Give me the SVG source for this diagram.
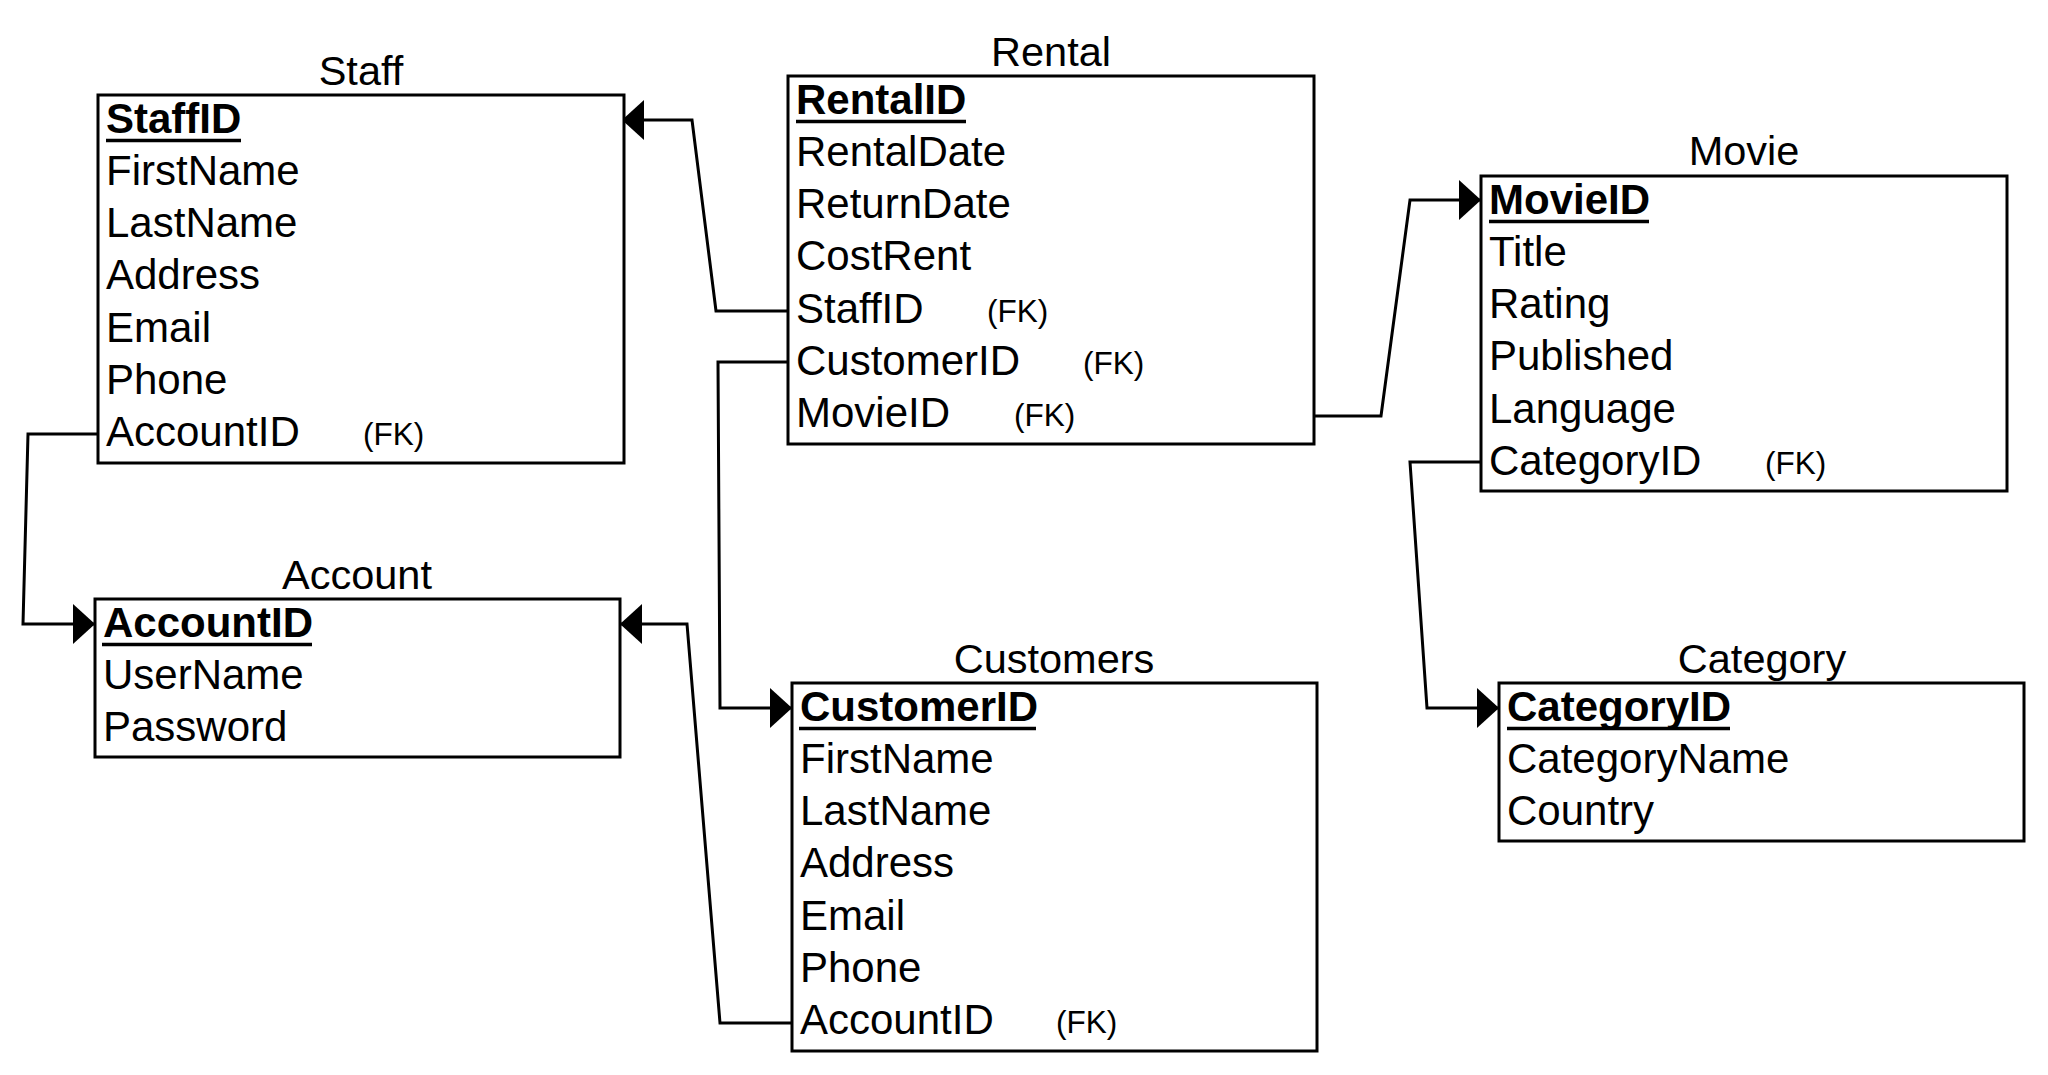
<svg xmlns="http://www.w3.org/2000/svg" width="2048" height="1075" viewBox="0 0 2048 1075">
<style>
  .box{fill:#fff;stroke:#000;stroke-width:3}
  .t{font-family:"Liberation Sans",Arial,sans-serif;font-size:42px;fill:#000}
  .title{font-family:"Liberation Sans",Arial,sans-serif;font-size:41.5px;fill:#000;text-anchor:middle}
  .pk{font-weight:bold}
  .fk{font-family:"Liberation Sans",Arial,sans-serif;font-size:31.5px;fill:#000}
  .ul{stroke:#000;stroke-width:3.5}
  .conn{fill:none;stroke:#000;stroke-width:3;marker-end:url(#arr)}
</style>
<defs>
  <marker id="arr" viewBox="0 0 22 40" refX="22" refY="20" markerWidth="22" markerHeight="40" markerUnits="userSpaceOnUse" orient="auto">
    <path d="M0,0 L22,20 L0,40 Z" fill="#000"/>
  </marker>
</defs>
<rect width="2048" height="1075" fill="#fff"/>

<g id="connectors">
  <polyline class="conn" points="788,311 716,311 692,120 622,120"/>
  <polyline class="conn" points="788,362 718,362 720,708 792,708"/>
  <polyline class="conn" points="1314,416 1381,416 1410,200 1481,200"/>
  <polyline class="conn" points="1481,462 1410,462 1427,708 1499,708"/>
  <polyline class="conn" points="98,434 28,434 23,624 95,624"/>
  <polyline class="conn" points="792,1023 720,1023 687,624 620,624"/>
</g>

<g id="staff">
  <text class="title" x="361" y="85">Staff</text>
  <rect class="box" x="98" y="95" width="526" height="368"/>
  <text class="t pk" x="106" y="132.5">StaffID</text>
  <line class="ul" x1="106" y1="140.5" x2="241" y2="140.5"/>
  <text class="t" x="106" y="184.8">FirstName</text>
  <text class="t" x="106" y="237.1">LastName</text>
  <text class="t" x="106" y="289.4">Address</text>
  <text class="t" x="106" y="341.7">Email</text>
  <text class="t" x="106" y="394">Phone</text>
  <text class="t" x="106" y="446.3">AccountID</text>
  <text class="fk" x="363" y="445">(FK)</text>
</g>

<g id="account">
  <text class="title" x="357" y="589">Account</text>
  <rect class="box" x="95" y="599" width="525" height="158"/>
  <text class="t pk" x="103" y="636.5">AccountID</text>
  <line class="ul" x1="102" y1="644.5" x2="312" y2="644.5"/>
  <text class="t" x="103" y="688.8">UserName</text>
  <text class="t" x="103" y="741.1">Password</text>
</g>

<g id="rental">
  <text class="title" x="1051" y="66">Rental</text>
  <rect class="box" x="788" y="76" width="526" height="368"/>
  <text class="t pk" x="796" y="113.5">RentalID</text>
  <line class="ul" x1="796" y1="121.5" x2="966" y2="121.5"/>
  <text class="t" x="796" y="165.8">RentalDate</text>
  <text class="t" x="796" y="218.1">ReturnDate</text>
  <text class="t" x="796" y="270.4">CostRent</text>
  <text class="t" x="796" y="322.7">StaffID</text>
  <text class="fk" x="987" y="321.5">(FK)</text>
  <text class="t" x="796" y="375">CustomerID</text>
  <text class="fk" x="1083" y="373.5">(FK)</text>
  <text class="t" x="796" y="427.3">MovieID</text>
  <text class="fk" x="1014" y="426">(FK)</text>
</g>

<g id="movie">
  <text class="title" x="1744" y="165">Movie</text>
  <rect class="box" x="1481" y="176" width="526" height="315"/>
  <text class="t pk" x="1489" y="213.5">MovieID</text>
  <line class="ul" x1="1489" y1="221.5" x2="1649" y2="221.5"/>
  <text class="t" x="1489" y="265.8">Title</text>
  <text class="t" x="1489" y="318.1">Rating</text>
  <text class="t" x="1489" y="370.4">Published</text>
  <text class="t" x="1489" y="422.7">Language</text>
  <text class="t" x="1489" y="475">CategoryID</text>
  <text class="fk" x="1765" y="473.5">(FK)</text>
</g>

<g id="customers">
  <text class="title" x="1054" y="673">Customers</text>
  <rect class="box" x="792" y="683" width="525" height="368"/>
  <text class="t pk" x="800" y="720.5">CustomerID</text>
  <line class="ul" x1="799" y1="728.5" x2="1036" y2="728.5"/>
  <text class="t" x="800" y="772.8">FirstName</text>
  <text class="t" x="800" y="825.1">LastName</text>
  <text class="t" x="800" y="877.4">Address</text>
  <text class="t" x="800" y="929.7">Email</text>
  <text class="t" x="800" y="982">Phone</text>
  <text class="t" x="800" y="1034.3">AccountID</text>
  <text class="fk" x="1056" y="1033">(FK)</text>
</g>

<g id="category">
  <text class="title" x="1762" y="673">Category</text>
  <rect class="box" x="1499" y="683" width="525" height="158"/>
  <text class="t pk" x="1507" y="720.5">CategoryID</text>
  <line class="ul" x1="1507" y1="728.5" x2="1730" y2="728.5"/>
  <text class="t" x="1507" y="772.8">CategoryName</text>
  <text class="t" x="1507" y="825.1">Country</text>
</g>
</svg>
